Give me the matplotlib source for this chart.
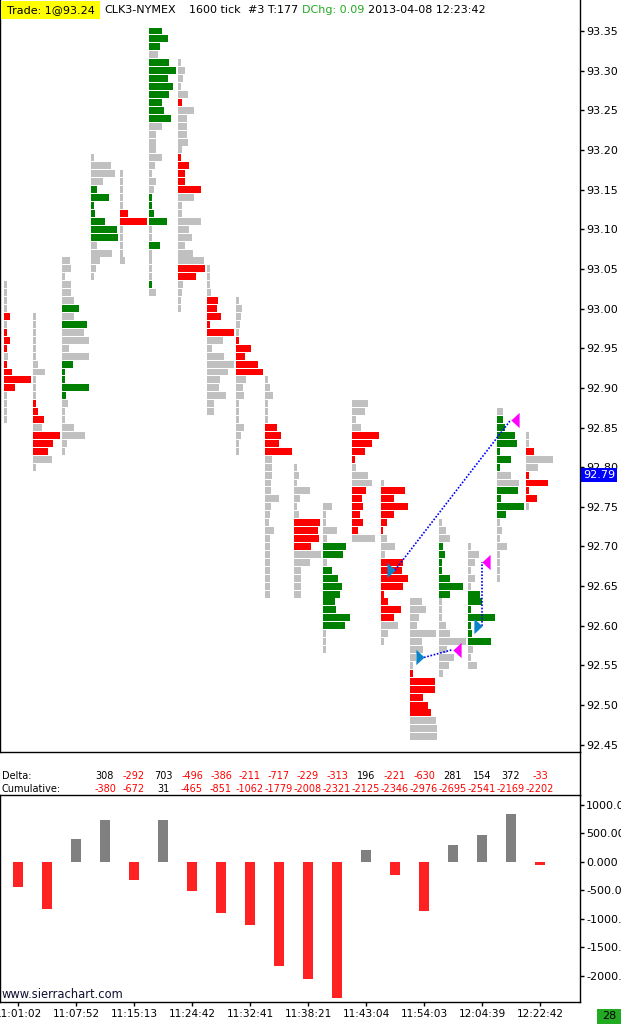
import matplotlib
matplotlib.use('Agg')
import matplotlib.pyplot as plt
import numpy as np
from matplotlib import transforms
from matplotlib.lines import Line2D
from matplotlib.patches import Rectangle
from matplotlib.path import Path

W, H = 621, 1024
SLOT = 29.0  # pixels per bar column

# volume profile of each 1600-tick bar: top price, volume per 0.01 step going down,
# side per level (g = neutral, G = ask dominant, R = bid dominant)
col_top = [93.03, 92.99, 93.06, 93.19, 93.17, 93.35, 93.31, 93.05, 93.01, 92.91,
           92.80, 92.75, 92.88, 92.78, 92.63, 92.73, 92.70, 92.87, 92.84]
col_vol = [
    [3, 3, 3, 3, 6, 3, 3, 6, 3, 4, 3, 8, 27, 11, 3, 3, 3, 3],
    [3, 3, 3, 3, 3, 3, 5, 12, 3, 3, 3, 3, 5, 11, 9, 27, 20, 15, 19, 3],
    [8, 9, 3, 9, 9, 12, 17, 12, 25, 22, 27, 7, 27, 11, 3, 3, 27, 4, 6, 3, 3, 12, 23, 5, 3],
    [3, 20, 24, 12, 6, 18, 3, 4, 14, 26, 27, 6, 21, 9, 5, 3],
    [3, 3, 3, 3, 3, 8, 27, 3, 3, 3, 3, 5],
    [13, 19, 11, 9, 20, 27, 19, 24, 20, 13, 15, 22, 13, 7, 7, 7, 13, 6, 3, 7, 5, 3, 3, 5,
     18, 3, 3, 11, 3, 3, 3, 3, 3, 7],
    [3, 7, 5, 3, 10, 4, 16, 9, 9, 9, 10, 4, 3, 11, 7, 7, 23, 16, 4, 4, 23, 11, 14, 7, 15,
     26, 27, 18, 5, 4, 3, 3],
    [3, 3, 3, 4, 11, 10, 14, 3, 27, 16, 5, 17, 27, 21, 13, 12, 19, 7, 7],
    [3, 6, 5, 4, 3, 3, 15, 9, 22, 27, 10, 7, 8, 3, 3, 3, 8, 5, 3, 3],
    [3, 5, 8, 3, 3, 3, 12, 16, 14, 27, 7, 7, 7, 6, 6, 14, 6, 5, 4, 9, 5, 5, 5, 5, 5, 5, 5, 5],
    [3, 5, 3, 16, 6, 3, 5, 26, 24, 25, 17, 27, 16, 7, 7, 7, 7],
    [9, 3, 3, 14, 4, 23, 20, 4, 9, 15, 19, 17, 12, 13, 27, 22, 3, 3, 3],
    [16, 13, 4, 9, 27, 20, 13, 3, 4, 16, 20, 14, 10, 11, 8, 11, 6, 23],
    [3, 24, 13, 27, 13, 6, 2, 6, 14, 4, 22, 21, 27, 22, 3, 7, 20, 13, 17, 7, 3],
    [12, 16, 9, 7, 26, 12, 13, 6, 3, 3, 25, 25, 13, 18, 21, 26, 27, 27],
    [3, 7, 11, 4, 6, 3, 3, 11, 24, 11, 3, 3, 3, 7, 11, 27, 8, 15, 10, 4],
    [3, 11, 7, 3, 7, 3, 12, 14, 3, 27, 3, 4, 23, 5, 3, 9],
    [6, 6, 8, 18, 20, 3, 14, 3, 14, 22, 21, 4, 27, 9, 3, 5, 3, 10, 3, 3, 3, 3],
    [3, 3, 8, 27, 12, 3, 22, 3, 11, 3],
]
col_side = [
    "ggggRgRRRgRRRRgggg",
    "gggggggggggRRRgRRRgg",
    "ggggggGgGggggGGGGGggggggg",
    "ggggGGGGGGGggggg",
    "gggggRRggggg",
    "GGGgGGGGGGGGgggggggggGGGGggGggggGg",
    "gggggRggggggRRRRRgggggggggRRgggg",
    "ggggRRRRRgggggggggg",
    "gggggRRRRRgggggggggg",
    "ggggggRRRR" + "g" * 18,
    "gggggggRRRRgggggg",
    "gggggGGgGGGGGGGGggg",
    "ggggRRRRgggRRRRRRg",
    "gRRRRRRgggRRRRRRRRggg",
    "gggggggggRRRRRRggg",
    "gggGGGGGGG" + "g" * 10,
    "ggggggGGGGGGGggg",
    "gGGGGGGGggGGGGgggggggg",
    "ggRggRRRRg",
]

delta_first_col = 3
delta = [308, -292, 703, -496, -386, -211, -717, -229, -313, 196, -221, -630, 281, 154, 372, -33]
cumulative = [-380, -672, 31, -465, -851, -1062, -1779, -2008, -2321, -2125, -2346, -2976,
              -2695, -2541, -2169, -2202]
osc = [-435, -830, 410, 730, -318, 730, -510, -900, -1110, -1830, -2060, -2380, 215, -230,
       -865, 305, 465, 835, -50]
times = ["11:01:02", "11:07:52", "11:15:13", "11:24:42", "11:32:41", "11:38:21", "11:43:04",
         "11:54:03", "12:04:39", "12:22:42"]
price_ticks = [round(92.45 + 0.05 * k, 2) for k in range(19)]
osc_ticks = [1000, 500, 0, -500, -1000, -1500, -2000]
last_price = 92.79
entries = [(13, 92.67), (14, 92.56), (16, 92.60)]
exits = [(17, 92.86), (15, 92.57), (16, 92.68)]

side_color = {'g': '#c0c0c0', 'G': '#008000', 'R': '#ff0000'}


def fx(px):
    return px / W


def fy(py):
    return 1 - py / H


fig = plt.figure(figsize=(W / 100, H / 100), dpi=100)
fig.patch.set_facecolor('white')

xlim = (-4 / SLOT, 576 / SLOT)

# main price panel
ax = fig.add_axes([0, fy(752), fx(580), 752 / H])
ax.set_xlim(*xlim)
ax.set_ylim(93.35 - 721 / 793, 93.35 + 31 / 793)
for i in range(len(col_top)):
    vols = np.array(col_vol[i]) / SLOT
    prices = col_top[i] - 0.01 * np.arange(len(vols))
    colors = [side_color[s] for s in col_side[i]]
    ax.barh(prices, vols, left=i, height=0.0088, color=colors, linewidth=0,
            antialiased=False, zorder=2)

for (bc, bp), (mc, mp) in zip(entries, exits):
    ax.plot([bc + 14 / SLOT, mc + 14 / SLOT], [bp, mp], color='#0000ff', lw=1.2,
            ls=(0, (1, 1)), zorder=3)

right_tri = Path([(-0.27, -0.5), (0.27, 0), (-0.27, 0.5), (-0.27, -0.5)],
                 [Path.MOVETO, Path.LINETO, Path.LINETO, Path.CLOSEPOLY])
left_tri = Path([(0.27, -0.5), (-0.27, 0), (0.27, 0.5), (0.27, -0.5)],
                [Path.MOVETO, Path.LINETO, Path.LINETO, Path.CLOSEPOLY])
ax.plot([c + 10 / SLOT for c, p in entries], [p for c, p in entries], ls='none',
        marker=right_tri, ms=11, color='#0a84c8', mec='none', zorder=4)
ax.plot([c + 18 / SLOT for c, p in exits], [p for c, p in exits], ls='none',
        marker=left_tri, ms=11, color='#ff00ff', mec='none', zorder=4)

ax.set_xticks([])
ax.yaxis.tick_right()
ax.set_yticks(price_ticks)
ax.set_yticklabels([f'{p:.2f}' for p in price_ticks])
ax.tick_params(axis='y', direction='out', length=3, width=1, pad=1.5, labelsize=8,
               colors='black')
ax.spines['top'].set_visible(False)
for s in ['left', 'right', 'bottom']:
    ax.spines[s].set_color('black')
    ax.spines[s].set_linewidth(1)
ax.text(1.005, last_price, f'{last_price:.2f}', transform=ax.get_yaxis_transform(),
        ha='left', va='center', color='white', fontsize=8, zorder=10,
        bbox=dict(boxstyle='square,pad=0.15', fc='#0000ff', ec='none'))

# delta rows
mix = transforms.blended_transform_factory(ax.transData, fig.transFigure)
fig.text(fx(2), fy(776), 'Delta:', fontsize=7, va='center', ha='left')
fig.text(fx(2), fy(789), 'Cumulative:', fontsize=7, va='center', ha='left')
for k, (d, c) in enumerate(zip(delta, cumulative)):
    xc = delta_first_col + k + 14 / SLOT
    fig.text(xc, fy(776), str(d), transform=mix, fontsize=7, ha='center', va='center',
             color='black' if d >= 0 else '#ff0000')
    fig.text(xc, fy(789), str(c), transform=mix, fontsize=7, ha='center', va='center',
             color='black' if c >= 0 else '#ff0000')
fig.add_artist(Line2D([fx(580), fx(580)], [fy(795), fy(752)], color='black', lw=1))

# lower oscillator panel
ax2 = fig.add_axes([0, fy(1002), fx(580), (1002 - 795) / H])
ax2.set_xlim(*xlim)
ax2.set_ylim(-2456, 1175)
xs = np.arange(len(osc)) + 14 / SLOT
ax2.bar(xs, osc, width=10 / SLOT, color=['#808080' if v >= 0 else '#ff2222' for v in osc],
        linewidth=0, antialiased=False)
ax2.yaxis.tick_right()
ax2.set_yticks(osc_ticks)
ax2.set_yticklabels([f'{v:.3f}' for v in osc_ticks])
ax2.set_xticks(xs[::2])
ax2.set_xticklabels(times)
ax2.tick_params(axis='y', direction='out', length=3, width=1, pad=1.5, labelsize=8)
ax2.tick_params(axis='x', direction='out', length=3, width=1, pad=2, labelsize=7.6)
for s in ax2.spines.values():
    s.set_color('black')
    s.set_linewidth(1)
ax2.text(0.003, 0.034, 'www.sierrachart.com', transform=ax2.transAxes, fontsize=8.3,
         color='#101030', ha='left', va='center')

# header
fig.add_artist(Rectangle((fx(1), fy(19)), fx(99), 18 / H, transform=fig.transFigure,
                         fc='#ffff00', ec='none'))
hy = fy(10)
fig.text(fx(7), hy, 'Trade: 1@93.24', fontsize=8, va='center')
fig.text(fx(104), hy, 'CLK3-NYMEX', fontsize=8, va='center')
fig.text(fx(189), hy, '1600 tick', fontsize=8, va='center')
fig.text(fx(248), hy, '#3 T:177', fontsize=8, va='center')
fig.text(fx(302), hy, 'DChg: 0.09', fontsize=8, va='center', color='#22aa22')
fig.text(fx(368), hy, '2013-04-08 12:23:42', fontsize=8, va='center')

# status box bottom right
fig.add_artist(Rectangle((fx(597), 0), fx(24), 15 / H, transform=fig.transFigure,
                         fc='#22aa22', ec='none'))
fig.text(fx(609), fy(1016), '28', fontsize=8, ha='center', va='center')

fig.savefig('out.png', dpi=100)
